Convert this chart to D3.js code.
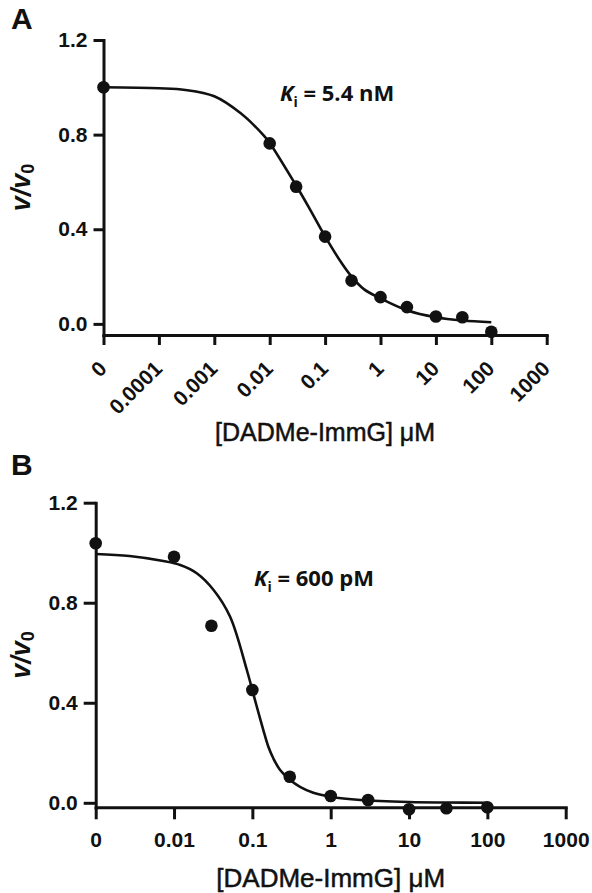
<!DOCTYPE html>
<html>
<head>
<meta charset="utf-8">
<script src="https://cdn.jsdelivr.net/npm/d3@7"></script>
<style>
  body { margin: 0; background: #fff; }
  svg { display: block; }
</style>
</head>
<body>
<svg id="chart" width="592" height="893"></svg>
<script>
// ---- panel A data ----
const concA = [0, 0.01, 0.03, 0.1, 0.3, 1, 3, 10, 30, 100];
const rateA = [1.0, 0.763, 0.58, 0.369, 0.183, 0.113, 0.071, 0.031, 0.028, -0.033];
const fitConcA = [0, 0.0001, 0.0003, 0.001, 0.003, 0.0077, 0.01, 0.03, 0.05, 0.1, 0.2, 0.3, 0.5, 1, 3, 10, 30, 100];
const fitRateA = [1.0, 0.996, 0.989, 0.962, 0.89, 0.798, 0.765, 0.585, 0.496, 0.37, 0.256, 0.2, 0.147, 0.108, 0.058, 0.028, 0.014, 0.007];
const xTicksA = [0, 0.0001, 0.001, 0.01, 0.1, 1, 10, 100, 1000];
const xLabelsA = ["0", "0.0001", "0.001", "0.01", "0.1", "1", "10", "100", "1000"];

// ---- panel B data ----
const concB = [0, 0.01, 0.03, 0.1, 0.3, 1, 3, 10, 30, 100];
const rateB = [1.038, 0.984, 0.708, 0.451, 0.104, 0.027, 0.011, -0.026, -0.022, -0.018];
const fitConcB = [0, 0.0027, 0.0073, 0.012, 0.0195, 0.032, 0.052, 0.085, 0.101, 0.114, 0.138, 0.16, 0.185, 0.226, 0.303, 0.406, 0.6, 1, 2.4, 10, 30, 100];
const fitRateB = [0.995, 0.987, 0.967, 0.951, 0.918, 0.851, 0.744, 0.531, 0.445, 0.384, 0.291, 0.224, 0.178, 0.131, 0.091, 0.064, 0.04, 0.024, 0.011, 0.003, 0.001, 0.0];
const xTicksB = [0, 0.01, 0.1, 1, 10, 100, 1000];
const xLabelsB = ["0", "0.01", "0.1", "1", "10", "100", "1000"];

const yTicks = [0, 0.4, 0.8, 1.2];

const ink = "#111";
const svg = d3.select("#chart");

function drawPanel(p) {
    const g = svg.append("g");
    // "0" is plotted at the left end of the log axis
    const zeroAt = p.xDomain[0];
    const xv = c => c === 0 ? zeroAt : c;

    const x = d3.scaleLog().domain(p.xDomain).range([p.left, p.right]);
    const y = d3.scaleLinear().domain(p.yDomain).range([p.bottom, p.top]);

    // y axis
    const ya = g.append("g").attr("transform", `translate(${p.left},0)`)
        .call(d3.axisLeft(y).tickValues(yTicks).tickFormat(d3.format(".1f"))
            .tickSize(p.tick).tickSizeOuter(0).tickPadding(6));
    // x axis
    const xa = g.append("g").attr("transform", `translate(0,${p.bottom})`)
        .call(d3.axisBottom(x).tickValues(p.xTicks.map(xv))
            .tickFormat((d, i) => p.xLabels[i]).tickSize(p.tick).tickSizeOuter(0));

    [ya, xa].forEach(a => {
        a.select(".domain").attr("stroke", ink).attr("stroke-width", 3).attr("stroke-linecap", "square");
        a.selectAll(".tick line").attr("stroke", ink).attr("stroke-width", 3);
        a.selectAll("text").attr("fill", ink)
            .style("font-family", "'Liberation Sans', Arial, sans-serif")
            .style("font-weight", "bold").style("font-size", "21px");
    });

    if (p.rotateLabels) {
        xa.selectAll(".tick text")
            .attr("text-anchor", "end").attr("dy", null).attr("y", null)
            .attr("transform", "translate(4,35) rotate(-45)");
    } else {
        xa.selectAll(".tick text").attr("dy", null).attr("y", p.xLabelY - p.bottom);
    }

    // fitted curve
    const line = d3.line().x(d => x(xv(d[0]))).y(d => y(d[1])).curve(d3.curveCatmullRom.alpha(0.5));
    g.append("path").datum(d3.zip(p.fitConc, p.fitRate))
        .attr("d", line).attr("fill", "none").attr("stroke", ink).attr("stroke-width", 2.6);

    // data points
    g.selectAll(".pt").data(d3.zip(p.conc, p.rate)).join("circle").attr("class", "pt")
        .attr("cx", d => x(xv(d[0]))).attr("cy", d => y(d[1])).attr("r", 6.3).attr("fill", ink);

    // panel letter
    g.append("text").attr("x", 11).attr("y", p.letterY).text(p.letter)
        .attr("fill", ink).style("font-family", "'Liberation Sans', Arial, sans-serif")
        .style("font-weight", "bold").style("font-size", "30px");

    // y title v/v0
    const yt = g.append("text")
        .attr("transform", `translate(30,${(p.top + p.bottom) / 2}) rotate(-90)`)
        .attr("text-anchor", "middle").attr("fill", ink)
        .style("font-family", "'Liberation Sans', Arial, sans-serif")
        .style("font-weight", "bold").style("font-size", "27px");
    yt.append("tspan").style("font-style", "italic").text("v/v");
    yt.append("tspan").attr("dy", 4).style("font-size", "18px").text("0");

    // x title
    g.append("text").attr("x", (p.left + p.right) / 2).attr("y", p.titleY)
        .attr("text-anchor", "middle").attr("fill", ink)
        .attr("stroke", ink).attr("stroke-width", 0.5)
        .style("font-family", "'Liberation Sans', Arial, sans-serif")
        .style("font-size", p.titleSize + "px")
        .text("[DADMe-ImmG] \u03bcM");

    // Ki annotation
    const ki = g.append("text").attr("x", p.kiX).attr("y", p.kiY).attr("fill", ink)
        .style("font-family", "'Open Sans', Lato, sans-serif")
        .style("font-weight", "bold").style("font-size", "22px");
    ki.append("tspan").style("font-style", "italic").text("K");
    ki.append("tspan").attr("dy", 6).style("font-size", "14px").text("i");
    ki.append("tspan").attr("dy", -6).text(" = " + p.ki);
}

drawPanel({
    letter: "A", letterY: 29,
    left: 103.5, right: 546.7, top: 40, bottom: 335, tick: 10,
    xDomain: [1e-5, 1000], yDomain: [-0.047, 1.2],
    xTicks: xTicksA, xLabels: xLabelsA, rotateLabels: true,
    conc: concA, rate: rateA, fitConc: fitConcA, fitRate: fitRateA,
    titleY: 441, titleSize: 25,
    kiX: 280, kiY: 101, ki: "5.4 nM"
});

drawPanel({
    letter: "B", letterY: 475,
    left: 95.7, right: 565.7, top: 502.7, bottom: 807.3, tick: 12,
    xDomain: [1e-3, 1000], yDomain: [-0.018, 1.2],
    xTicks: xTicksB, xLabels: xLabelsB, rotateLabels: false, xLabelY: 847,
    conc: concB, rate: rateB, fitConc: fitConcB, fitRate: fitRateB,
    titleY: 886.5, titleSize: 26,
    kiX: 254, kiY: 586, ki: "600 pM"
});
</script>
</body>
</html>
